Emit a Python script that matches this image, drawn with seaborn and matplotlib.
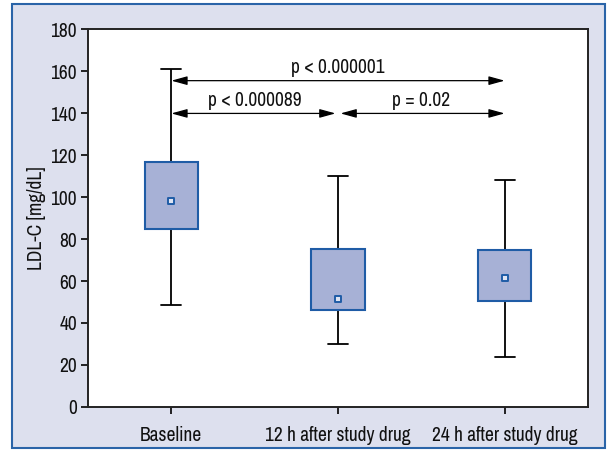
import numpy as np
import pandas as pd
import seaborn as sns
import matplotlib.pyplot as plt
from matplotlib import font_manager as fm
from matplotlib.patches import Rectangle

# Werte (LDL-C, mg/dL)
categories = ["Baseline", "12 h after study drug", "24 h after study drug"]
whisker_low = [48.6, 29.9, 23.7]
q1 = [84.8, 46.3, 50.6]
center = [98.1, 51.6, 61.3]
q3 = [116.6, 75.2, 74.9]
whisker_high = [161.0, 110.1, 108.1]

# Vergleiche: (von, bis, Hoehe der Linie, Text)
comp_from = [0, 0, 1]
comp_to = [2, 1, 2]
comp_y = [155.4, 139.8, 139.8]
comp_text = ["p < 0.000001", "p < 0.000089", "p = 0.02"]

sns.set_theme(style="white")
# schmale Schrift wie im Original, sonst Liberation Sans etwas kleiner
available = {f.name for f in fm.fontManager.ttflist}
if "Archivo Narrow" in available:
    plt.rcParams['font.family'] = ['Archivo Narrow', 'DejaVu Sans']
    fs = 14
else:
    plt.rcParams['font.family'] = ['Liberation Sans', 'DejaVu Sans']
    fs = 11

# 5 Kennwerte je Gruppe -> Quartile ergeben sich exakt daraus
rows = []
for i, cat in enumerate(categories):
    for v in (whisker_low[i], q1[i], center[i], q3[i], whisker_high[i]):
        rows.append({"group": cat, "ldl": v})
df = pd.DataFrame(rows)
df_mid = pd.DataFrame({"group": categories, "ldl": center})

fig = plt.figure(figsize=(6.1, 4.5), dpi=100)
fig.patch.set_facecolor("white")
fig.patches.append(Rectangle((12 / 610, 2 / 450), 593 / 610, 444 / 450,
                             transform=fig.transFigure, facecolor="#dde0ee",
                             edgecolor="#2a64a8", linewidth=1.5, zorder=-5))

ax = fig.add_axes([88 / 610, 1 - 407 / 450, 500 / 610, 378 / 450])
ax.set_zorder(2)
ax.set_facecolor("white")

box_fill = "#a7b1d6"
box_edge = "#1f5ca6"
sns.boxplot(data=df, x="group", y="ldl", order=categories, ax=ax,
            whis=(0, 100), width=0.32, color=box_fill, saturation=1,
            showfliers=False, capwidths=0.12,
            boxprops=dict(facecolor=box_fill, edgecolor=box_edge, linewidth=1.5),
            whiskerprops=dict(color="black", linewidth=1.3),
            capprops=dict(color="black", linewidth=1.3),
            medianprops=dict(linewidth=0))
for w in ax.lines:
    w.set_zorder(1)
for p in ax.patches:
    p.set_zorder(2)

sns.scatterplot(data=df_mid, x="group", y="ldl", ax=ax, marker="s", s=22,
                color="#dfe5f3", edgecolor=box_edge, linewidth=1.4, zorder=5,
                legend=False)

for a, b, y, t in zip(comp_from, comp_to, comp_y, comp_text):
    x0 = a + (0.015 if a > 0 else 0.0)
    x1 = b - (0.015 if b < 2 else 0.0)
    ax.annotate("", xy=(x1, y), xytext=(x0, y),
                arrowprops=dict(arrowstyle="<|-|>,head_length=0.8,head_width=0.22",
                                color="black", lw=0.9, shrinkA=0, shrinkB=0))
    ax.text((a + b) / 2, y + 1.8, t, ha="center", va="bottom", fontsize=fs,
            color="#111111")

ax.set_xlim(-0.5, 2.5)
ax.set_ylim(0, 180)
ax.set_yticks(np.arange(0, 181, 20))
ax.set_xlabel("")
ax.set_ylabel("LDL-C [mg/dL]", fontsize=fs, labelpad=3, color="#111111")
ax.tick_params(axis="both", which="both", direction="out", length=5, width=1.2,
               colors="black", labelcolor="#111111", labelsize=fs,
               left=True, bottom=True)
ax.tick_params(axis="y", pad=3)
ax.tick_params(axis="x", pad=9)
for s in ax.spines.values():
    s.set_visible(True)
    s.set_color("#222222")
    s.set_linewidth(1.4)

fig.savefig("out.png", dpi=100, facecolor=fig.get_facecolor())
plt.close(fig)
